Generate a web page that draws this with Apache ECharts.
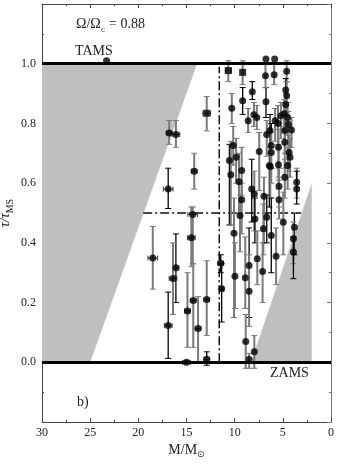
<!DOCTYPE html>
<html>
<head>
<meta charset="utf-8">
<script src="https://cdn.jsdelivr.net/npm/echarts@6/dist/echarts.min.js"></script>
<style>
  html, body { margin: 0; padding: 0; background: #fff; }
  #chart { width: 346px; height: 465px; }
</style>
</head>
<body>
<div id="chart"></div>
<script>
// stars: mass, age fraction, vertical error range, mass error, bar tone (1 = grey)
const mass = [23.3, 16.8, 16.1, 16.9, 12.9, 14.2, 14.35, 14.5, 18.5, 16.1,
  16.4, 14.3, 14.9, 16.9, 13.8, 12.9, 15.0, 12.9, 11.45, 11.35,
  10.66, 9.17, 10.3, 9.17, 8.17, 8.6, 8.0, 7.7, 10.15, 10.55,
  9.85, 10.4, 9.27, 9.55, 9.27, 9.45, 10.07, 9.97, 8.9, 8.5,
  8.5, 8.85, 7.96, 8.5, 8.23, 7.96, 6.96, 7.9, 7.02, 7.65,
  7.1, 7.45, 6.4, 6.75, 6.8, 6.75, 5.85, 5.9, 4.6, 4.7,
  4.6, 4.7, 4.85, 5.2, 5.8, 5.5, 4.5, 4.43, 4.1, 4.8,
  6.33, 6.67, 4.8, 6.2, 5.45, 6.2, 4.35, 4.25, 6.3, 5.45,
  4.8, 4.5, 3.56, 3.56, 5.4, 5.4, 6.67, 4.95, 6.2, 3.8,
  3.9, 3.9, 5.7];
const tau = [1.01, 0.768, 0.763, 0.58, 0.834, 0.64, 0.495, 0.417, 0.349, 0.317,
  0.281, 0.207, 0.172, 0.123, 0.113, 0.21, 0.0, 0.01, 0.332, 0.246,
  0.977, 0.971, 0.851, 0.876, 0.906, 0.809, 0.829, 0.82, 0.726, 0.676,
  0.687, 0.628, 0.642, 0.605, 0.544, 0.492, 0.432, 0.288, 0.283, 0.324,
  0.238, 0.07, 0.035, 0.009, 0.58, 0.564, 0.556, 0.48, 0.447, 0.347,
  0.304, 0.706, 0.659, 0.873, 0.96, 1.016, 1.016, 0.963, 0.975, 0.912,
  0.893, 0.863, 0.832, 0.826, 0.809, 0.80, 0.82, 0.796, 0.778, 0.776,
  0.776, 0.763, 0.737, 0.726, 0.72, 0.703, 0.703, 0.687, 0.656, 0.662,
  0.62, 0.659, 0.603, 0.58, 0.59, 0.544, 0.486, 0.469, 0.425, 0.452,
  0.414, 0.369, 0.355];
const tauLo = [1.01, 0.73, 0.72, 0.515, 0.775, 0.58, 0.33, 0.32, 0.245, 0.20,
  0.16, 0.05, 0.05, 0.013, 0.0, 0.09, -0.005, -0.01, 0.30, 0.135,
  0.94, 0.93, 0.80, 0.83, 0.88, 0.77, 0.79, 0.78, 0.66, 0.46,
  0.60, 0.46, 0.56, 0.50, 0.43, 0.37, 0.15, 0.18, 0.18, 0.15,
  0.12, -0.02, -0.02, -0.02, 0.47, 0.44, 0.40, 0.40, 0.36, 0.26,
  0.20, 0.575, 0.52, 0.82, 0.92, 1.016, 1.016, 0.93, 0.94, 0.87,
  0.84, 0.80, 0.77, 0.75, 0.74, 0.73, 0.76, 0.72, 0.72, 0.70,
  0.70, 0.69, 0.65, 0.65, 0.62, 0.60, 0.64, 0.62, 0.55, 0.58,
  0.55, 0.58, 0.55, 0.53, 0.52, 0.48, 0.40, 0.36, 0.30, 0.36,
  0.33, 0.28, 0.26];
const tauHi = [1.01, 0.81, 0.81, 0.65, 0.89, 0.70, 0.52, 0.52, 0.455, 0.43,
  0.40, 0.33, 0.30, 0.235, 0.22, 0.34, 0.005, 0.035, 0.36, 0.33,
  1.01, 1.01, 0.90, 0.92, 0.94, 0.85, 0.87, 0.86, 0.79, 0.73,
  0.75, 0.74, 0.72, 0.70, 0.60, 0.56, 0.55, 0.40, 0.42, 0.45,
  0.36, 0.16, 0.09, 0.03, 0.68, 0.64, 0.62, 0.55, 0.53, 0.44,
  0.40, 0.77, 0.72, 0.92, 1.0, 1.016, 1.016, 1.0, 1.01, 0.95,
  0.94, 0.90, 0.88, 0.87, 0.85, 0.86, 0.87, 0.84, 0.82, 0.84,
  0.83, 0.81, 0.79, 0.80, 0.78, 0.77, 0.76, 0.75, 0.72, 0.72,
  0.68, 0.72, 0.65, 0.64, 0.65, 0.61, 0.56, 0.57, 0.55, 0.50,
  0.47, 0.42, 0.45];
const massErr = [0, 0.3, 0.4, 0.5, 0.4, 0.3, 0.5, 0.4, 0.5, 0.3,
  0.4, 0.3, 0.3, 0.4, 0.3, 0.3, 0.4, 0.3, 0.3, 0.2,
  0.3, 0, 0, 0, 0, 0, 0, 0, 0, 0,
  0, 0, 0, 0, 0, 0, 0, 0, 0, 0,
  0, 0, 0, 0, 0, 0, 0, 0, 0, 0,
  0, 0, 0, 0, 0, 0, 0, 0, 0, 0,
  0, 0, 0, 0, 0, 0, 0, 0, 0, 0,
  0, 0, 0, 0, 0, 0, 0, 0, 0, 0,
  0, 0, 0, 0, 0, 0, 0, 0, 0, 0,
  0, 0, 0];
const barTone = [1, 1, 1, 0, 1, 1, 1, 1, 1, 0,
  1, 1, 1, 0, 1, 1, 0, 0, 0, 0,
  1, 1, 1, 0, 0, 1, 1, 1, 1, 0,
  1, 1, 1, 1, 1, 1, 1, 1, 1, 0,
  1, 1, 1, 1, 0, 1, 1, 0, 1, 1,
  1, 1, 0, 0, 1, 0, 0, 1, 1, 0,
  1, 1, 1, 1, 1, 1, 1, 1, 1, 1,
  0, 1, 1, 0, 1, 1, 1, 1, 1, 1,
  1, 1, 1, 0, 1, 1, 0, 1, 0, 0,
  1, 0, 1];
const squareStars = [4, 20, 21];

// shaded forbidden zones and guide lines
const leftZone = [[30, 0], [25, 0], [13.9, 1], [30, 1]];
const rightZone = [[8.3, 0], [2, 0.6], [2, 0]];
const guideMass = 11.6;
const guideTau = 0.5;
const guideTauSpan = [19.5, 3.1];
const zams = 0, tams = 1;

const xTicks = [0, 30, 5];
const yTicks = [-0.2, 1.2, 0.2];

const serif = 'Liberation Serif';
const chart = echarts.init(document.getElementById('chart'));

const stars = mass.map((m, i) => [m, tau[i], tauLo[i], tauHi[i], massErr[i], barTone[i]]);

const zoneItem = (pts) => (params, api) => ({
  type: 'polygon',
  shape: { points: pts.map(p => api.coord(p)) },
  style: { fill: '#bfbfbf', stroke: '#d8d8d8', lineWidth: 1, lineDash: [1, 2] },
  silent: true
});

const option = {
  animation: false,
  grid: { left: 42, right: 15, top: 4, bottom: 43, outerBoundsMode: 'none', containLabel: false },
  xAxis: [{
    type: 'value', min: xTicks[0], max: xTicks[1], interval: xTicks[2], inverse: true,
    name: '{m|M/M}{s|⊙}', nameLocation: 'middle', nameGap: 20, nameMoveOverlap: false,
    nameTextStyle: { rich: { m: { fontFamily: serif, fontSize: 14, color: '#222' },
      s: { fontFamily: 'DejaVu Sans', fontSize: 9, color: '#222', verticalAlign: 'bottom', padding: [8, 0, 0, 0] } } },
    axisLine: { onZero: false, lineStyle: { color: '#444', width: 1 } },
    axisTick: { inside: true, length: 4, lineStyle: { color: '#444' } },
    minorTick: { show: true, splitNumber: 2, length: 2, lineStyle: { color: '#444' } },
    axisLabel: { fontFamily: serif, fontSize: 12, color: '#222', margin: 5 },
    splitLine: { show: false }
  }, {
    type: 'value', min: xTicks[0], max: xTicks[1], interval: xTicks[2], inverse: true, position: 'top',
    axisLine: { onZero: false, lineStyle: { color: '#444' } },
    axisTick: { inside: true, length: 4, lineStyle: { color: '#444' } },
    minorTick: { show: true, splitNumber: 2, length: 2, lineStyle: { color: '#444' } },
    axisLabel: { show: false }, splitLine: { show: false }
  }],
  yAxis: [{
    type: 'value', min: yTicks[0], max: yTicks[1], interval: yTicks[2], position: 'left',
    name: '{t|τ/τ}{s|MS}', nameLocation: 'middle', nameGap: 27, nameMoveOverlap: false,
    nameTextStyle: { rich: { t: { fontFamily: serif, fontSize: 14, fontStyle: 'italic', color: '#222' },
      s: { fontFamily: serif, fontSize: 10, color: '#222', verticalAlign: 'bottom', lineHeight: 20 } } },
    axisLine: { onZero: false, lineStyle: { color: '#444' } },
    axisTick: { inside: true, length: 4, lineStyle: { color: '#444' } },
    minorTick: { show: true, splitNumber: 2, length: 2, lineStyle: { color: '#444' } },
    axisLabel: { fontFamily: serif, fontSize: 12, color: '#222', margin: 6,
      formatter: v => (v < -0.01 || v > 1.01) ? '' : v.toFixed(1) },
    splitLine: { show: false }
  }, {
    type: 'value', min: yTicks[0], max: yTicks[1], interval: yTicks[2], position: 'right',
    axisLine: { onZero: false, lineStyle: { color: '#777' } },
    axisTick: { inside: true, length: 4, lineStyle: { color: '#777' } },
    minorTick: { show: true, splitNumber: 2, length: 2, lineStyle: { color: '#777' } },
    axisLabel: { show: false }, splitLine: { show: false }
  }],
  series: [
    { type: 'custom', renderItem: zoneItem(leftZone), data: [0], z: 1 },
    { type: 'custom', renderItem: zoneItem(rightZone), data: [0], z: 1 },
    {
      type: 'line', data: [[guideMass, zams], [guideMass, 0.99]], symbol: 'none', z: 2,
      lineStyle: { color: '#111', width: 1.5, type: [9, 3, 2, 3] }
    },
    {
      type: 'line', data: [[guideTauSpan[0], guideTau], [guideTauSpan[1], guideTau]], symbol: 'none', z: 2,
      lineStyle: { color: '#111', width: 1.5, type: [9, 3, 2, 3] }
    },
    {
      type: 'line', data: [], z: 3,
      markLine: {
        silent: true, symbol: 'none', label: { show: false },
        lineStyle: { color: '#000', width: 3, type: 'solid' },
        data: [{ yAxis: zams }, { yAxis: tams }]
      }
    },
    {
      type: 'custom', z: 4, data: stars,
      renderItem: (params, api) => {
        const p = api.coord([api.value(0), api.value(1)]);
        const lo = api.coord([api.value(0), api.value(2)]);
        const hi = api.coord([api.value(0), api.value(3)]);
        const col = api.value(5) ? '#7a7a7a' : '#000';
        const st = { stroke: col, lineWidth: api.value(5) ? 2 : 1.3 };
        const cap = { stroke: col, lineWidth: 1 };
        const kids = [];
        if (Math.abs(hi[1] - lo[1]) > 1) {
          kids.push({ type: 'line', shape: { x1: p[0], y1: lo[1], x2: p[0], y2: hi[1] }, style: st });
          kids.push({ type: 'line', shape: { x1: p[0] - 3, y1: lo[1], x2: p[0] + 3, y2: lo[1] }, style: cap });
          kids.push({ type: 'line', shape: { x1: p[0] - 3, y1: hi[1], x2: p[0] + 3, y2: hi[1] }, style: cap });
        }
        const xe = api.value(4);
        if (xe > 0) {
          const a = api.coord([api.value(0) - xe, api.value(1)]);
          const b = api.coord([api.value(0) + xe, api.value(1)]);
          const s2 = { stroke: '#333', lineWidth: 1 };
          kids.push({ type: 'line', shape: { x1: a[0], y1: p[1], x2: b[0], y2: p[1] }, style: s2 });
          kids.push({ type: 'line', shape: { x1: a[0], y1: p[1] - 2.5, x2: a[0], y2: p[1] + 2.5 }, style: s2 });
          kids.push({ type: 'line', shape: { x1: b[0], y1: p[1] - 2.5, x2: b[0], y2: p[1] + 2.5 }, style: s2 });
        }
        return { type: 'group', children: kids };
      }
    },
    {
      type: 'scatter', z: 5, data: stars.map((s, i) => ({
        value: [s[0], s[1]], symbol: squareStars.includes(i) ? 'rect' : 'circle'
      })),
      symbolSize: 7, itemStyle: { color: '#000' }
    }
  ],
  graphic: [
    { type: 'text', left: 76, top: 17, style: { text: 'Ω/Ω', font: '14px "Liberation Serif"', fill: '#222' } },
    { type: 'text', left: 101, top: 25, style: { text: 'c', font: '9px "Liberation Serif"', fill: '#222' } },
    { type: 'text', left: 109, top: 17, style: { text: '= 0.88', font: '14px "Liberation Serif"', fill: '#222' } },
    { type: 'text', left: 75, top: 44, style: { text: 'TAMS', font: '14px "Liberation Serif"', fill: '#222' } },
    { type: 'text', left: 270, top: 366, style: { text: 'ZAMS', font: '14px "Liberation Serif"', fill: '#222' } },
    { type: 'text', left: 77, top: 395, style: { text: 'b)', font: '14px "Liberation Serif"', fill: '#222' } }
  ]
};
chart.setOption(option);
</script>
</body>
</html>
